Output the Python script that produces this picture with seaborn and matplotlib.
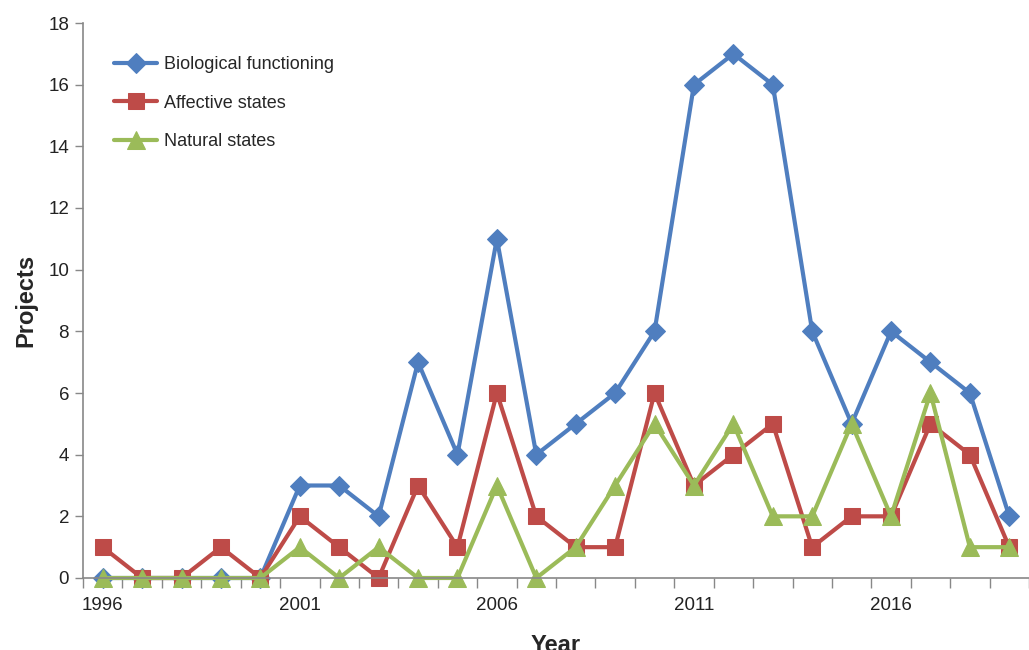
import matplotlib
matplotlib.use("Agg")
import matplotlib.pyplot as plt
import seaborn as sns
import pandas as pd
import numpy as np

years = list(range(1996, 2020))
biological = [0, 0, 0, 0, 0, 3, 3, 2, 7, 4, 11, 4, 5, 6, 8, 16, 17, 16, 8, 5, 8, 7, 6, 2]
affective = [1, 0, 0, 1, 0, 2, 1, 0, 3, 1, 6, 2, 1, 1, 6, 3, 4, 5, 1, 2, 2, 5, 4, 1]
natural = [0, 0, 0, 0, 0, 1, 0, 1, 0, 0, 3, 0, 1, 3, 5, 3, 5, 2, 2, 5, 2, 6, 1, 1]
series_names = ["Biological functioning", "Affective states", "Natural states"]
year_labels = [1996, 2001, 2006, 2011, 2016]

df = pd.DataFrame({"Year": years * 3,
                   "Projects": biological + affective + natural,
                   "Series": np.repeat(series_names, len(years))})

sns.set_theme(style="white")
plt.rcParams["font.family"] = ["Liberation Sans", "DejaVu Sans"]

fig = plt.figure(figsize=(10.29, 6.5), dpi=100)
ax = fig.add_axes([83 / 1029, 1 - 578 / 650, 946 / 1029, 555 / 650])

palette = {"Biological functioning": "#4F7EBF",
           "Affective states": "#BE4B48",
           "Natural states": "#9BBB59"}
markers = {"Biological functioning": "D",
           "Affective states": "s",
           "Natural states": "^"}
sizes = {"Biological functioning": 10.5, "Affective states": 12, "Natural states": 13}

for name in series_names:
    sub = df[df["Series"] == name]
    sns.lineplot(data=sub, x="Year", y="Projects", ax=ax, color=palette[name],
                 marker=markers[name], markersize=sizes[name], linewidth=3.0,
                 markeredgecolor=palette[name], label=name, clip_on=False)

ax.set_xlim(1995.5, 2019.3)
ax.set_ylim(0, 18)
ax.set_yticks(range(0, 19, 2))
ax.set_xticks(year_labels)
ax.set_xticklabels([str(y) for y in year_labels])
ax.set_xticks(np.arange(1995.5, 2019.6, 1), minor=True)
ax.tick_params(axis="x", which="major", length=0, labelsize=13.5, pad=14, colors="#222222")
ax.tick_params(axis="x", which="minor", length=7, width=1, color="#888888", direction="out", bottom=True)
ax.tick_params(axis="y", length=6, width=1, color="#888888", direction="out", left=True,
               labelsize=13.5, labelcolor="#222222", pad=4)

for side in ["top", "right"]:
    ax.spines[side].set_visible(False)
for side in ["left", "bottom"]:
    ax.spines[side].set_color("#888888")
    ax.spines[side].set_linewidth(1.2)

ax.set_xlabel("Year", fontsize=17, fontweight="bold", labelpad=14)
ax.set_ylabel("Projects", fontsize=17, fontweight="bold", labelpad=8)

leg = ax.legend(loc="upper left", bbox_to_anchor=(0.0155, 0.97), frameon=False,
                fontsize=13, handlelength=2.4, handletextpad=0.35, labelspacing=1.2)

fig.savefig("out.png", dpi=100)
